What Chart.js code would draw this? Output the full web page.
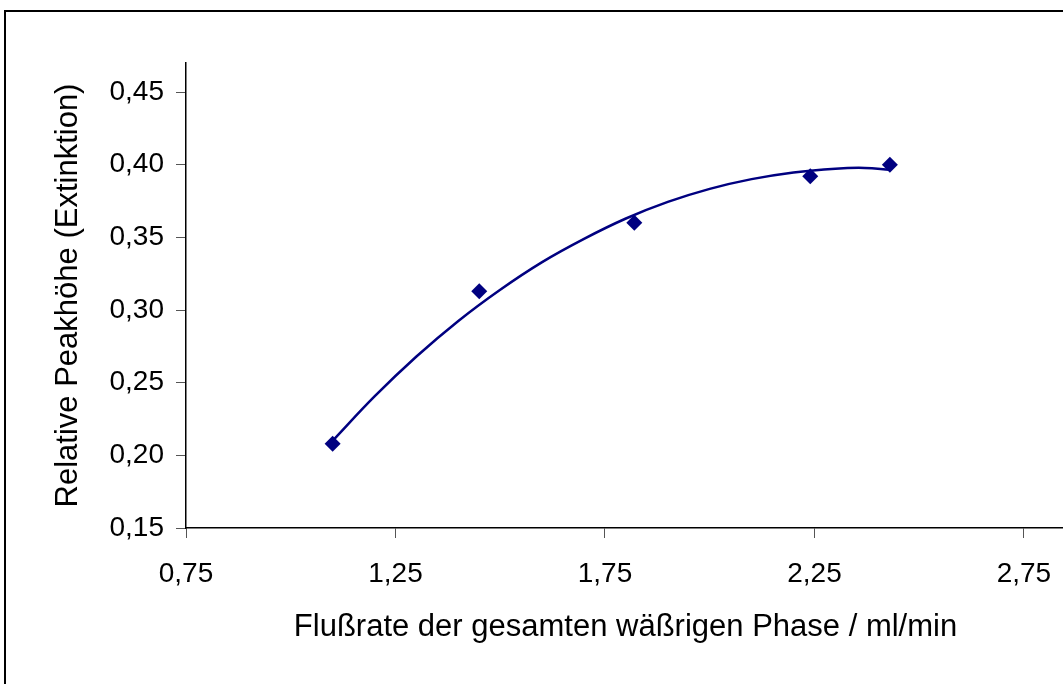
<!DOCTYPE html>
<html>
<head>
<meta charset="utf-8">
<script src="https://cdn.jsdelivr.net/npm/chart.js@4"></script>
<style>
  html, body { margin:0; padding:0; background:#fff; overflow:hidden; }
  #frame { position:absolute; left:4px; top:10px; width:1200px; height:800px; border:2px solid #000; }
  #wrap { position:absolute; left:0; top:0; width:1073px; height:684px; }
</style>
</head>
<body>
<div id="frame"></div>
<div id="wrap"><canvas id="chart"></canvas></div>
<script>
// measured points
const flowRate = [1.10, 1.45, 1.82, 2.24, 2.43];
const peakHeight = [0.208, 0.313, 0.360, 0.392, 0.400];

// trendline
const trendX = [1.10, 1.20, 1.30, 1.40, 1.50, 1.60, 1.70, 1.80, 1.90, 2.00, 2.10, 2.20, 2.30, 2.37, 2.43];
const trendY = [0.210, 0.2405, 0.268, 0.2925, 0.314, 0.333, 0.349, 0.363, 0.3744, 0.3834, 0.3901, 0.3947, 0.3973, 0.3978, 0.3965];

const xTicks = [0.75, 1.25, 1.75, 2.25, 2.75];
const yTicks = [0.15, 0.20, 0.25, 0.30, 0.35, 0.40, 0.45];

const navy = "#000080";
const fmt = v => Number(v).toFixed(2).replace(".", ",");

Chart.defaults.font.family = "'Liberation Sans', Arial, sans-serif";
Chart.defaults.color = "#000";

new Chart(document.getElementById("chart"), {
    type: "scatter",
    data: {
        datasets: [
            {
                data: trendX.map((x, i) => ({ x: x, y: trendY[i] })),
                showLine: true,
                borderColor: navy,
                borderWidth: 2.5,
                pointRadius: 0,
                tension: 0.4,
                fill: false
            },
            {
                data: flowRate.map((x, i) => ({ x: x, y: peakHeight[i] })),
                pointStyle: "rectRot",
                pointRadius: 8,
                backgroundColor: navy,
                borderColor: navy,
                borderWidth: 0
            }
        ]
    },
    options: {
        responsive: true,
        maintainAspectRatio: false,
        animation: false,
        layout: { padding: { top: 63, left: 0, right: 0, bottom: 0 } },
        plugins: { legend: { display: false }, tooltip: { enabled: false } },
        scales: {
            x: {
                type: "linear",
                min: 0.75,
                max: 2.848,
                afterBuildTicks: s => { s.ticks = xTicks.map(v => ({ value: v })); },
                afterFit: s => { s.height = 156; },
                border: { color: "#000", width: 1.5 },
                grid: { drawOnChartArea: false, tickLength: 10, color: "#555" },
                ticks: { callback: fmt, font: { size: 28 }, padding: 19, maxRotation: 0 },
                title: {
                    display: true,
                    text: "Flußrate der gesamten wäßrigen Phase / ml/min",
                    font: { size: 31 },
                    padding: { top: 0, bottom: 38 }
                }
            },
            y: {
                type: "linear",
                min: 0.15,
                max: 0.47,
                afterBuildTicks: s => { s.ticks = yTicks.map(v => ({ value: v })); },
                afterFit: s => { s.width = 186; },
                border: { color: "#000", width: 1.5 },
                grid: { drawOnChartArea: false, tickLength: 10, color: "#555" },
                ticks: { callback: fmt, font: { size: 28 }, padding: 12 },
                title: {
                    display: true,
                    text: "Relative Peakhöhe (Extinktion)",
                    font: { size: 31 },
                    padding: { top: 50, bottom: 0 }
                }
            }
        }
    }
});
</script>
</body>
</html>
